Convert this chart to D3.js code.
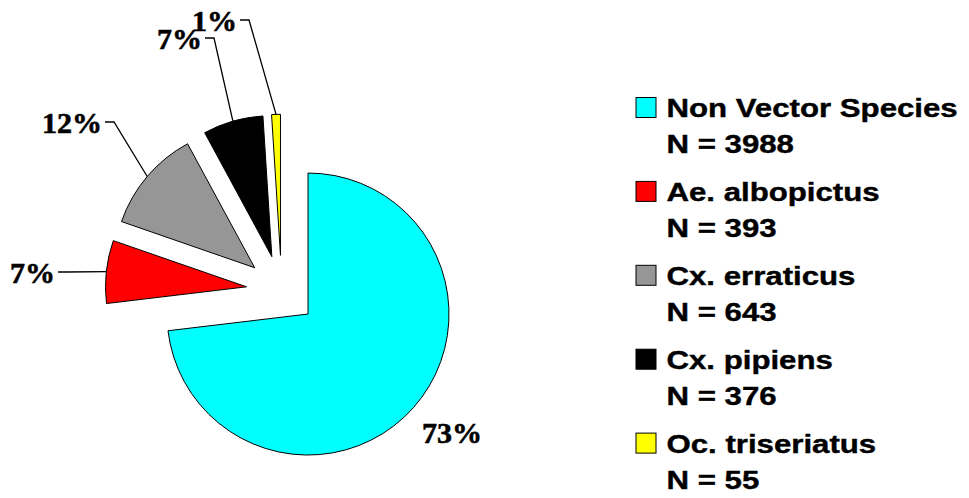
<!DOCTYPE html>
<html>
<head>
<meta charset="utf-8">
<script src="https://cdn.jsdelivr.net/npm/d3@7"></script>
<style>
  html, body { margin: 0; padding: 0; background: #fff; }
  svg { display: block; }
</style>
</head>
<body>
<svg id="chart" width="969" height="498"></svg>
<script>
// Mosquito collection by species group
const species = ["Non Vector Species", "Ae. albopictus", "Cx. erraticus", "Cx. pipiens", "Oc. triseriatus"];
const counts = [3988, 393, 643, 376, 55];
const colors = ["#00FFFF", "#FF0000", "#969696", "#000000", "#FFFF00"];

// Percent label placement: right end of text and baseline; leader drawn when flagged
const labelLayout = [
  { x: 482, y: 443, leader: false },
  { x: 55,  y: 283, leader: true },
  { x: 102, y: 133, leader: true },
  { x: 202, y: 49,  leader: true },
  { x: 237, y: 31,  leader: true }
];

const svg = d3.select("#chart");
const cx = 281.6, cy = 290.6;
const radius = 141;
const explode = 35.3;

const total = d3.sum(counts);
const pie = d3.pie().sort(null).value(d => d).startAngle(0).endAngle(2 * Math.PI);
const arcs = pie(counts);
const arc = d3.arc().innerRadius(0).outerRadius(radius);

const pieG = svg.append("g").attr("transform", `translate(${cx},${cy})`);

function offsetOf(a) {
  const mid = (a.startAngle + a.endAngle) / 2;
  return [explode * Math.sin(mid), -explode * Math.cos(mid)];
}

pieG.selectAll("path.slice")
  .data(arcs)
  .join("path")
  .attr("class", "slice")
  .attr("transform", d => { const o = offsetOf(d); return `translate(${o[0]},${o[1]})`; })
  .attr("d", arc)
  .attr("fill", (d, i) => colors[i])
  .attr("stroke", "#000")
  .attr("stroke-width", 1)
  .attr("stroke-linejoin", "miter");

// Percent labels with leader lines to the middle of each outer arc
const labelG = svg.append("g");
arcs.forEach((a, i) => {
  const pct = Math.round(a.data / total * 100) + "%";
  const L = labelLayout[i];
  labelG.append("text")
    .attr("x", L.x)
    .attr("y", L.y)
    .attr("text-anchor", "end")
    .attr("font-family", "'Liberation Serif', 'Times New Roman', serif")
    .attr("font-weight", "bold")
    .attr("font-size", 30)
    .attr("fill", "#000")
    .attr("stroke", "#000")
    .attr("stroke-width", 0.6)
    .text(pct);
  if (L.leader) {
    const o = offsetOf(a);
    const mid = (a.startAngle + a.endAngle) / 2;
    const ex = cx + o[0] + radius * Math.sin(mid);
    const ey = cy + o[1] - radius * Math.cos(mid);
    const sx = L.x + 3, sy = L.y - 11;
    labelG.append("path")
      .attr("d", d3.line()([[sx, sy], [sx + 9, sy], [ex, ey]]))
      .attr("fill", "none")
      .attr("stroke", "#000")
      .attr("stroke-width", 1.3);
  }
});

// Legend
const legend = svg.append("g");
const legX = 636, legY0 = 117, legStep = 83.9, lineGap = 36.3;
species.forEach((name, i) => {
  const by = legY0 + i * legStep;
  legend.append("rect")
    .attr("x", legX)
    .attr("y", by - 19.5)
    .attr("width", 20)
    .attr("height", 20)
    .attr("fill", colors[i])
    .attr("stroke", "#000")
    .attr("stroke-width", 1);
  const tg = legend.append("g")
    .attr("transform", `translate(${legX + 30.5},${by}) scale(1.2,1)`);
  [name, "N = " + counts[i]].forEach((t, j) => {
    tg.append("text")
      .attr("x", 0)
      .attr("y", j * lineGap)
      .attr("font-family", "'Liberation Sans', Arial, sans-serif")
      .attr("font-weight", "bold")
      .attr("font-size", 26)
      .attr("fill", "#000")
      .attr("stroke", "#000")
      .attr("stroke-width", 0.4)
      .text(t);
  });
});
</script>
</body>
</html>
